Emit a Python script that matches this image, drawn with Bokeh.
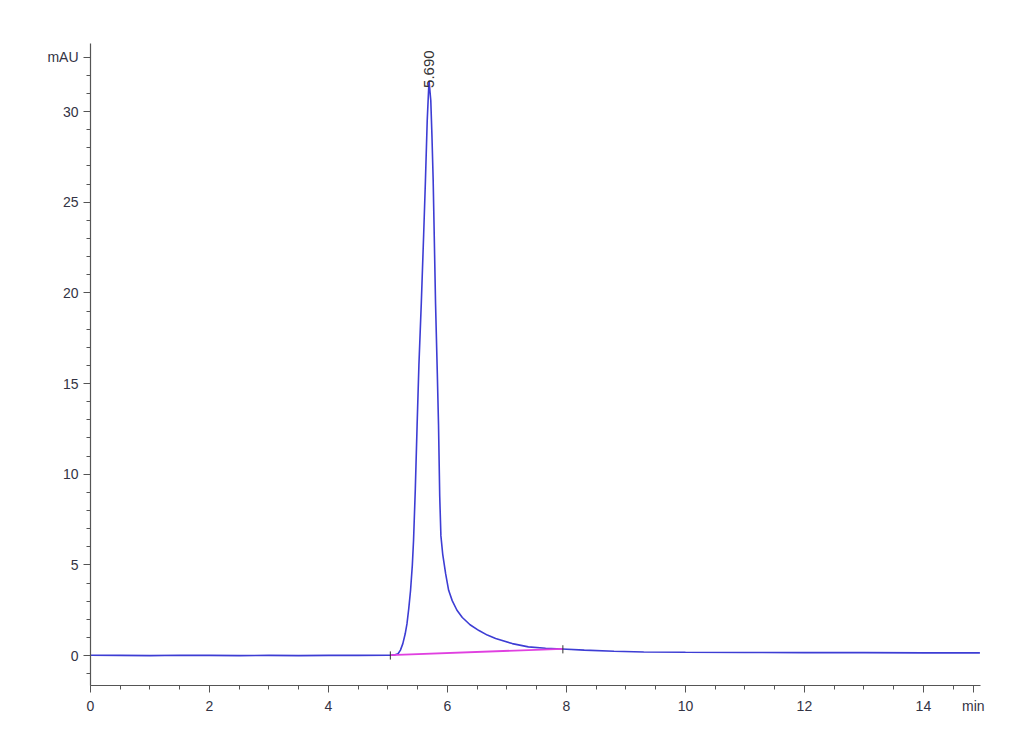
from bokeh.plotting import figure
from bokeh.models import FixedTicker, Range1d
from bokeh.embed import file_html
from bokeh.resources import INLINE
from bokeh.core.properties import value

# chromatogram signal (min, mAU)
time_min = [0.0, 0.5, 1.0, 1.5, 2.0, 2.5, 3.0, 3.5, 4.0, 4.5, 5.0, 5.04, 5.12, 5.17, 5.21,
            5.25, 5.29, 5.32, 5.35, 5.38, 5.41, 5.43, 5.46, 5.49, 5.52, 5.56, 5.60, 5.63,
            5.66, 5.69, 5.72, 5.74, 5.76, 5.78, 5.80, 5.83, 5.85, 5.87, 5.89, 5.92, 5.97,
            6.02, 6.08, 6.16, 6.25, 6.38, 6.53, 6.67, 6.81, 7.09, 7.36, 7.65, 7.93, 8.3,
            8.8, 9.3, 10.0, 11.0, 12.0, 13.0, 14.0, 14.95]
signal_mau = [0.02, 0.01, 0.0, 0.02, 0.01, 0.0, 0.01, 0.0, 0.01, 0.01, 0.02, 0.02, 0.04, 0.1, 0.3,
              0.66, 1.2, 1.76, 2.6, 3.6, 5.0, 6.35, 9.2, 12.7, 16.0, 19.4, 23.2, 26.2,
              29.5, 31.7, 30.6, 28.6, 26.2, 22.8, 19.4, 15.5, 12.7, 8.8, 6.6, 5.6, 4.5,
              3.6, 3.03, 2.5, 2.1, 1.7, 1.38, 1.13, 0.94, 0.66, 0.48, 0.4, 0.36, 0.3,
              0.24, 0.2, 0.18, 0.17, 0.16, 0.16, 0.15, 0.15]

# integration baseline
baseline_t = [5.04, 7.94]
baseline_y = [0.03, 0.37]

# peak annotation
peak_rt = [5.69]
peak_height = [31.3]
peak_label = ["5.690"]

x_ticks = [0, 2, 4, 6, 8, 10, 12, 14]
y_ticks = [0, 5, 10, 15, 20, 25, 30]
x_unit, x_unit_pos = "min", 14.84
y_unit, y_unit_pos = "mAU", 33

X_MIN, X_MAX = 0, 14.96
Y_MIN, Y_MAX = -1.65, 33.75

W, H = 1020, 745
p = figure(width=W, height=H, output_backend="svg", toolbar_location=None,
           x_range=Range1d(X_MIN, X_MAX), y_range=Range1d(Y_MIN, Y_MAX))
p.min_border_left = 90
p.min_border_right = 40
p.min_border_top = 43
p.min_border_bottom = 60
p.outline_line_color = None
p.xgrid.visible = False
p.ygrid.visible = False
p.background_fill_color = "white"
p.border_fill_color = "white"

# unit names sit in line with the tick labels, as in the original instrument plot
p.xaxis.ticker = FixedTicker(ticks=x_ticks + [x_unit_pos],
                             minor_ticks=[i * 0.5 for i in range(0, 30)])
p.xaxis.major_label_overrides = {x_unit_pos: x_unit}
p.yaxis.ticker = FixedTicker(ticks=y_ticks + [y_unit_pos], minor_ticks=list(range(-1, 34)))
p.yaxis.major_label_overrides = {y_unit_pos: y_unit}

TEXT_COLOR = "#333344"
for ax in (p.xaxis[0], p.yaxis[0]):
    ax.axis_line_color = "#555555"
    ax.axis_line_width = 1.2
    ax.major_tick_line_color = "#555555"
    ax.minor_tick_line_color = "#555555"
    ax.major_tick_out = 7
    ax.major_tick_in = 0
    ax.minor_tick_out = 4
    ax.minor_tick_in = 0
    ax.major_label_text_font = "Liberation Sans"
    ax.major_label_text_font_size = "14px"
    ax.major_label_text_color = TEXT_COLOR
    ax.major_label_standoff = 5

p.line(time_min, signal_mau, line_color="#3d3dd4", line_width=1.6)
p.line(baseline_t, baseline_y, line_color="#e040e0", line_width=1.8)
p.segment(x0=baseline_t, y0=[y - 0.25 for y in baseline_y], x1=baseline_t,
          y1=[y + 0.2 for y in baseline_y], line_color="#333333", line_width=1)

p.text(x=peak_rt, y=peak_height, text=peak_label, angle=1.5708,
       text_align="left", text_baseline="middle", text_font=value("Liberation Sans"),
       text_font_size="15px", text_color="#333333")

open("out.html", "w").write(file_html(p, INLINE))
